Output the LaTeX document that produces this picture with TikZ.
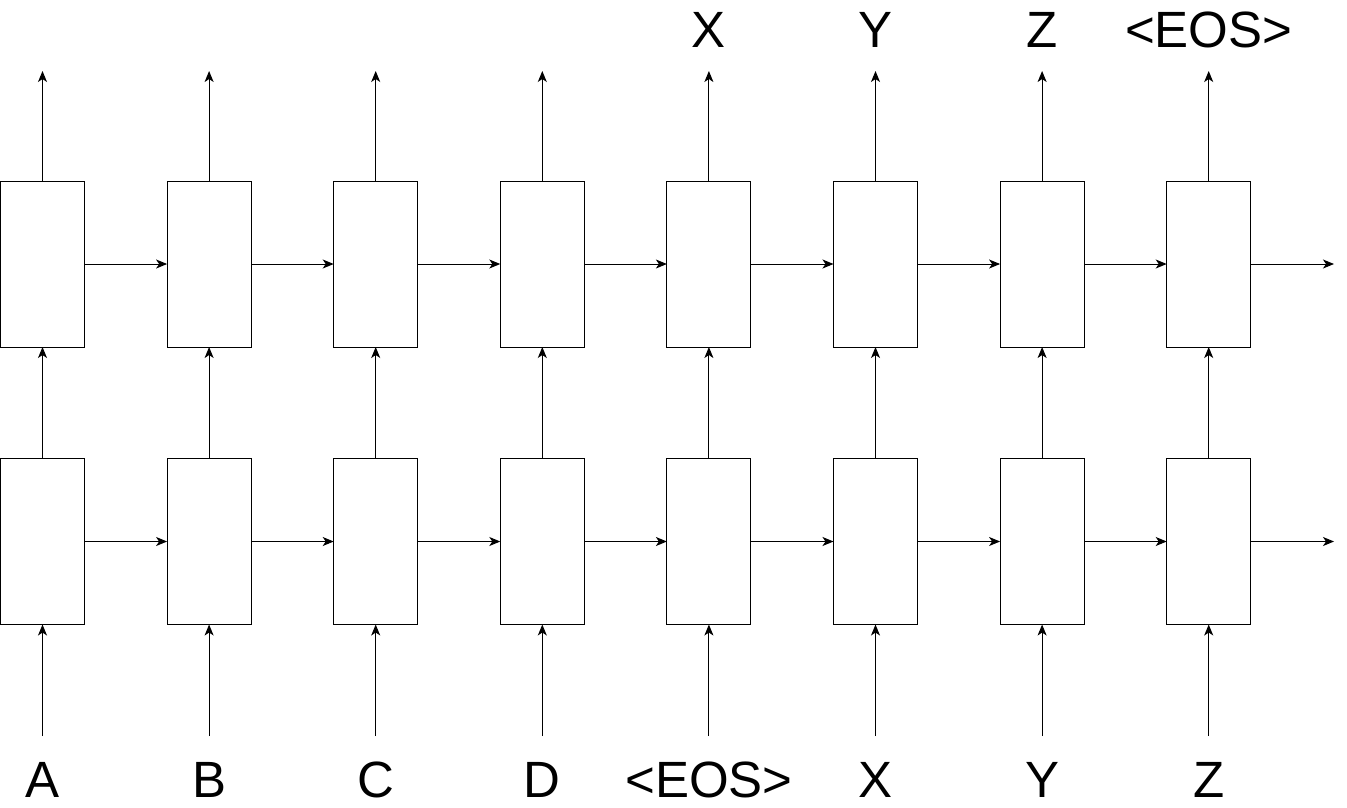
\documentclass[tikz,border=0pt]{standalone}
\usepackage{fontspec}
\setmainfont{Liberation Sans}
\usetikzlibrary{arrows.meta,calc}
\begin{document}
\begin{tikzpicture}[x=1pt,y=-1pt,
  cell/.style={draw=black,line width=1pt,minimum width=84pt,minimum height=166pt,inner sep=0pt,outer sep=0pt},
  conn/.style={draw=black,line width=1pt,-{Stealth[length=11pt,width=9pt,inset=3pt]}},
  lab/.style={font=\fontsize{51}{51}\selectfont,inner sep=0pt,anchor=base}]
\useasboundingbox (0,0) rectangle (1347,807);
\foreach \i in {1,...,8}{
  \pgfmathsetmacro{\cx}{42.5+166.6*(\i-1)}
  \node[cell] (u\i) at (\cx,264) {};
  \node[cell] (l\i) at (\cx,541.5) {};
  \coordinate (t\i) at (\cx,71);
  \coordinate (b\i) at (\cx,736);
  \draw[conn] (b\i) -- (l\i.south);
  \draw[conn] (l\i.north) -- (u\i.south);
  \draw[conn] (u\i.north) -- (t\i);
}
\foreach \i/\j in {1/2,2/3,3/4,4/5,5/6,6/7,7/8}{
  \draw[conn] (u\i.east) -- (u\j.west);
  \draw[conn] (l\i.east) -- (l\j.west);
}
\coordinate (ue) at (1334,264);
\coordinate (le) at (1334,541.5);
\draw[conn] (u8.east) -- (ue);
\draw[conn] (l8.east) -- (le);
\foreach \i/\t in {1/A,2/B,3/C,4/D,5/{<EOS>},6/X,7/Y,8/Z}{
  \node[lab] (bl\i) at ($(b\i)+(0,61)$) {\t};
}
\foreach \i/\t in {5/X,6/Y,7/Z,8/{<EOS>}}{
  \node[lab] (tl\i) at ($(t\i)+(0,-24)$) {\t};
}
\end{tikzpicture}
\end{document}
